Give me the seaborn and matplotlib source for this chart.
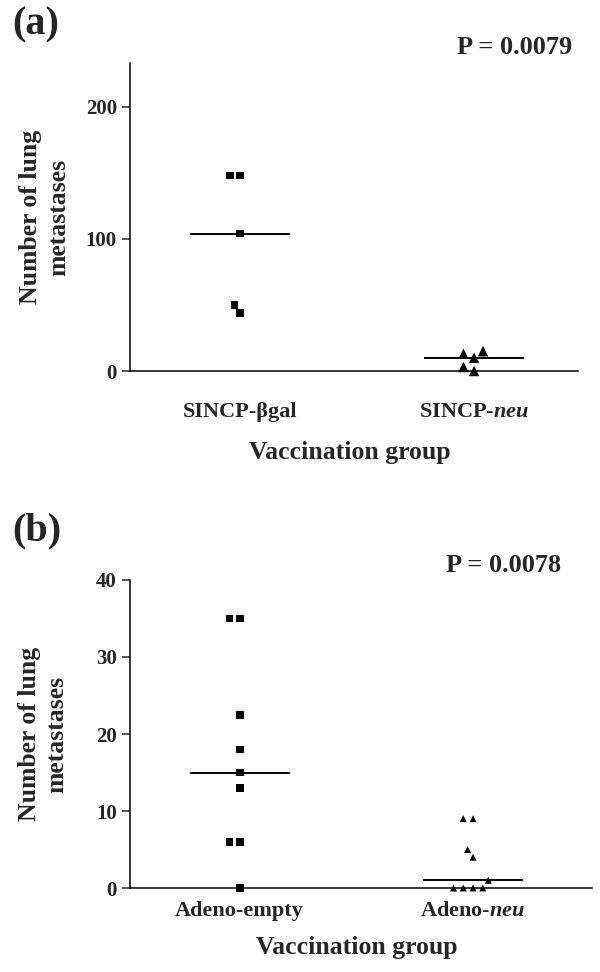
import matplotlib
matplotlib.use("Agg")
import pandas as pd
import matplotlib.pyplot as plt
import seaborn as sns

# panel (a) values
groups_a = ["SINCP-bgal", "SINCP-neu"]
labels_a = ["SINCP-\u03b2gal", "SINCP-$\\mathit{neu}$"]
sincp_bgal = [148, 148, 104, 50, 44]
sincp_neu = [13, 15, 10, 0, 3]
yticks_a = [0, 100, 200]
p_a = "P = 0.0079"

# panel (b) values
groups_b = ["Adeno-empty", "Adeno-neu"]
labels_b = ["Adeno-empty", "Adeno-$\\mathit{neu}$"]
adeno_empty = [35, 35, 22.5, 18, 15, 13, 6, 6, 0]
adeno_neu = [9, 9, 5, 4, 1, 0, 0, 0, 0]
yticks_b = [0, 10, 20, 30, 40]
p_b = "P = 0.0078"

sns.set_style("ticks")
plt.rcParams["font.family"] = ["Liberation Serif", "DejaVu Serif"]
plt.rcParams["font.weight"] = "bold"
plt.rcParams["mathtext.fontset"] = "custom"
plt.rcParams["mathtext.it"] = "Liberation Serif:italic:bold"
plt.rcParams["mathtext.rm"] = "Liberation Serif:bold"

fig = plt.figure(figsize=(6, 9.72), dpi=100)
ax_a = fig.add_axes([0.2167, 0.6183, 0.7466, 0.3169])
ax_b = fig.add_axes([0.2167, 0.0864, 0.77, 0.3169])


def draw_panel(ax, groups, labels, values, markers, sizes, gaps, ylim, yticks, xpad, xlab_y):
    df = pd.DataFrame({
        "group": [g for g, v in zip(groups, values) for _ in v],
        "count": [x for v in values for x in v],
    })
    # median line
    sns.boxplot(data=df, x="group", y="count", order=groups, width=0.43,
                showbox=False, showcaps=False, showfliers=False,
                whiskerprops={"visible": False},
                medianprops={"color": "black", "linewidth": 1.4}, ax=ax)
    for g, m, s, gap in zip(groups, markers, sizes, gaps):
        n_before = len(ax.collections)
        sns.swarmplot(data=df[df["group"] == g], x="group", y="count", order=groups,
                      marker=m, size=s, color="black", linewidth=0, ax=ax)
        for pts in ax.collections[n_before:]:
            if len(pts.get_offsets()) == 0:
                continue
            # invisible edge widens the swarm spacing
            pts.set_edgecolor("none")
            pts.set_linewidth(gap)
            pts.set_clip_on(False)
    ax.set_ylim(*ylim)
    ax.set_yticks(yticks)
    ax.set_xticks([0, 1], labels=labels)
    ax.tick_params(axis="y", direction="out", length=6, width=1.1, pad=3.5, labelsize=15)
    ax.tick_params(axis="x", length=0, pad=xpad, labelsize=16)
    for sp in ["top", "right"]:
        ax.spines[sp].set_visible(False)
    for sp in ["left", "bottom"]:
        ax.spines[sp].set_linewidth(1.1)
        ax.spines[sp].set_color("black")
    ax.set_xlabel("Vaccination group", fontsize=18.5, fontweight="bold")
    ax.xaxis.label.set_va("center")
    ax.xaxis.set_label_coords(0.49, xlab_y)
    ax.set_ylabel("Number of lung\nmetastases", fontsize=18.5, fontweight="bold",
                  linespacing=1.25)
    ax.yaxis.set_label_coords(-0.134, 0.5)


draw_panel(ax_a, groups_a, labels_a, [sincp_bgal, sincp_neu], ["s", "^"], [5.5, 7.5], [1.4, 0.3],
           (0, 233), yticks_a, 22, -0.266)
ax_a.set_xlim(-0.47, 1.444)

draw_panel(ax_b, groups_b, labels_b, [adeno_empty, adeno_neu], ["s", "^"], [5.5, 5], [1.4, 1.7],
           (0, 40), yticks_b, 9, -0.192)
ax_b.set_xlim(-0.47, 1.51)

fig.text(12 / 600, 1 - 25 / 972, "(a)", fontsize=29, fontweight="bold", va="center")
fig.text(12 / 600, 1 - 531 / 972, "(b)", fontsize=29, fontweight="bold", va="center")
fig.text(572 / 600, 1 - 47 / 972, p_a, fontsize=19, fontweight="bold", ha="right", va="center")
fig.text(561 / 600, 1 - 565 / 972, p_b, fontsize=19, fontweight="bold", ha="right", va="center")

fig.savefig("out.png", dpi=100)
